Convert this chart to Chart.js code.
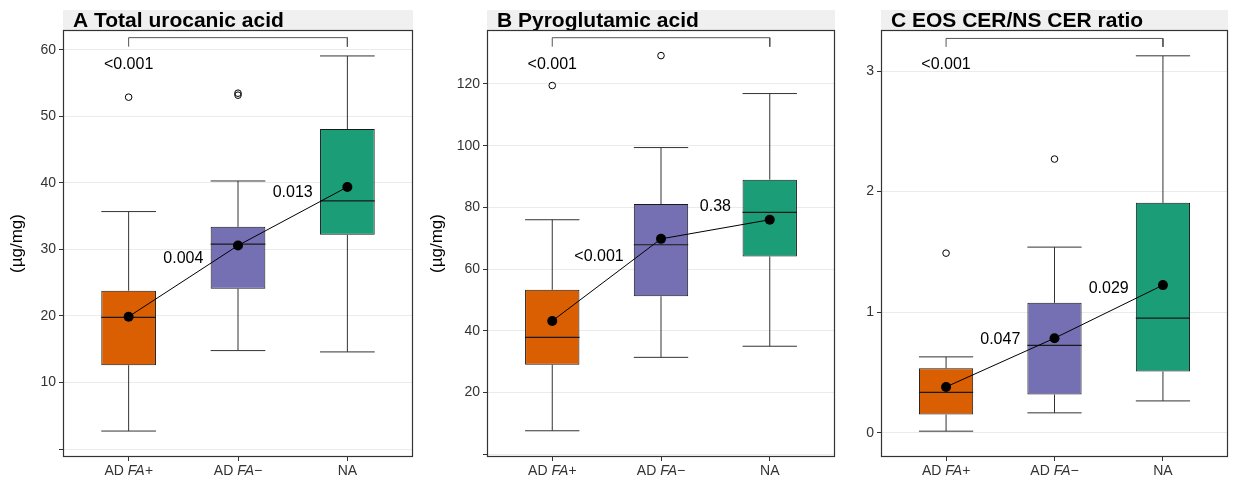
<!DOCTYPE html>
<html>
<head>
<meta charset="utf-8">
<script src="https://cdn.jsdelivr.net/npm/chart.js@4.4.1/dist/chart.umd.min.js"></script>
<style>
html, body { margin: 0; padding: 0; background: #ffffff; }
#wrap { position: relative; width: 1233px; height: 481px; overflow: hidden; background: #ffffff; }
#wrap canvas { position: absolute; top: 0; }
</style>
</head>
<body>
<div id="wrap">
  <canvas id="cA" width="420" height="481" style="left:0px"></canvas>
  <canvas id="cB" width="420" height="481" style="left:420px"></canvas>
  <canvas id="cC" width="393" height="481" style="left:840px"></canvas>
</div>
<script>
// ---------- data ----------
const categories = ['AD FA+', 'AD FA\u2212', 'NA'];

// Panel A: Total urocanic acid (µg/mg)
const aTitle = 'A Total urocanic acid';
const aWhiskerLow  = [2.7, 14.8, 14.6];
const aQ1          = [12.6, 24.1, 32.2];
const aMedian      = [19.8, 30.8, 37.3];
const aQ3          = [23.8, 33.4, 48.1];
const aWhiskerHigh = [35.7, 40.3, 59.1];
const aMean        = [19.9, 30.6, 39.4];
const aOutliers    = [[52.9], [53.2, 53.5], []];
const aTickValues  = [0, 10, 20, 30, 40, 50, 60];
const aTickLabels  = ['', '10', '20', '30', '40', '50', '60'];
const aRange       = [-1.2, 63.0];
const aNoteText    = ['<0.001', '0.004', '0.013'];
const aNoteX       = [1, 1.5, 2.5];
const aNoteY       = [57.8, 28.7, 38.5];
const aBracket     = [61.85, 60.5];

// Panel B: Pyroglutamic acid (µg/mg)
const bTitle = 'B Pyroglutamic acid';
const bWhiskerLow  = [7.6, 31.4, 35.0];
const bQ1          = [29.0, 51.2, 64.1];
const bMedian      = [37.9, 67.9, 78.4];
const bQ3          = [53.3, 81.1, 89.0];
const bWhiskerHigh = [76.0, 99.4, 116.9];
const bMean        = [43.2, 69.8, 76.0];
const bOutliers    = [[119.5], [129.2], []];
const bTickValues  = [0, 20, 40, 60, 80, 100, 120];
const bTickLabels  = ['', '20', '40', '60', '80', '100', '120'];
const bRange       = [-0.9, 137.5];
const bNoteText    = ['<0.001', '<0.001', '0.38'];
const bNoteX       = [1, 1.43, 2.5];
const bNoteY       = [126.4, 64.0, 80.3];
const bBracket     = [135.0, 132.1];

// Panel C: EOS CER/NS CER ratio
const cTitle = 'C EOS CER/NS CER ratio';
const cWhiskerLow  = [0.014, 0.166, 0.265];
const cQ1          = [0.152, 0.318, 0.509];
const cMedian      = [0.335, 0.725, 0.951];
const cQ3          = [0.536, 1.078, 1.907];
const cWhiskerHigh = [0.63, 1.54, 3.126];
const cMean        = [0.381, 0.785, 1.225];
const cOutliers    = [[1.49], [2.27], []];
const cTickValues  = [0, 1, 2, 3];
const cTickLabels  = ['0', '1', '2', '3'];
const cRange       = [-0.2, 3.34];
const cNoteText    = ['<0.001', '0.047', '0.029'];
const cNoteX       = [1, 1.5, 2.5];
const cNoteY       = [3.055, 0.777, 1.197];
const cBracket     = [3.27, 3.20];

const yTitleText = '(\u00b5g/mg)';

// ---------- styles ----------
const FONT = '"Liberation Sans", Arial, Helvetica, sans-serif';
const boxColors = ['#D95F02', '#7570B3', '#1B9E77'];
const BOX_HALF = 0.25;
const INK = '#1a1a1a';

function buildPanel(canvasId, p) {
  const n = categories.length;
  const pos = categories.map((c, i) => i + 1);

  const whiskerPts = [];
  pos.forEach((x, i) => {
    whiskerPts.push({x: x, y: p.lo[i]}, {x: x, y: p.q1[i]}, {x: x, y: null});
    whiskerPts.push({x: x, y: p.q3[i]}, {x: x, y: p.hi[i]}, {x: x, y: null});
    whiskerPts.push({x: x - BOX_HALF, y: p.hi[i]}, {x: x + BOX_HALF, y: p.hi[i]}, {x: x, y: null});
    whiskerPts.push({x: x - BOX_HALF, y: p.lo[i]}, {x: x + BOX_HALF, y: p.lo[i]}, {x: x, y: null});
  });
  const medianPts = [];
  pos.forEach((x, i) => {
    medianPts.push({x: x - BOX_HALF, y: p.med[i]}, {x: x + BOX_HALF, y: p.med[i]}, {x: x, y: null});
  });
  const outlierPts = [];
  pos.forEach((x, i) => p.out[i].forEach(v => outlierPts.push({x: x, y: v})));
  const meanPts = pos.map((x, i) => ({x: x, y: p.mean[i]}));
  const bracketPts = [
    {x: pos[0], y: p.bracket[1]}, {x: pos[0], y: p.bracket[0]},
    {x: pos[n - 1], y: p.bracket[0]}, {x: pos[n - 1], y: p.bracket[1]}
  ];

  const decor = {
    id: 'decor_' + canvasId,
    beforeDraw(chart) {
      const ctx = chart.ctx, a = chart.chartArea;
      ctx.save();
      ctx.fillStyle = '#f0f0f0';
      ctx.fillRect(a.left, a.top - 20, a.right - a.left, 20);
      ctx.fillStyle = '#000000';
      ctx.font = 'bold 21px ' + FONT;
      ctx.textAlign = 'left';
      ctx.textBaseline = 'alphabetic';
      ctx.fillText(p.title, a.left + 10, a.top - 3);
      ctx.restore();
    },
    afterDatasetsDraw(chart) {
      const ctx = chart.ctx, xs = chart.scales.x, ys = chart.scales.y;
      ctx.save();
      ctx.font = '16px ' + FONT;
      ctx.fillStyle = '#000000';
      ctx.textAlign = 'center';
      ctx.textBaseline = 'middle';
      p.noteText.forEach((t, i) => {
        ctx.fillText(t, xs.getPixelForValue(p.noteX[i]), ys.getPixelForValue(p.noteY[i]));
      });
      ctx.restore();
    },
    afterDraw(chart) {
      const ctx = chart.ctx, a = chart.chartArea, xs = chart.scales.x;
      ctx.save();
      ctx.strokeStyle = '#333333';
      ctx.lineWidth = 1.2;
      ctx.strokeRect(a.left + 0.5, a.top + 0.5, a.right - a.left - 1, a.bottom - a.top - 1);
      // category labels (italic genotype part)
      ctx.fillStyle = '#333333';
      ctx.textBaseline = 'middle';
      ctx.textAlign = 'left';
      const normalFont = '14px ' + FONT, italicFont = 'italic 14px ' + FONT;
      categories.forEach((lab, i) => {
        const parts = lab.split(' ');
        const first = parts.length > 1 ? parts[0] + ' ' : parts[0];
        const second = parts.length > 1 ? parts.slice(1).join(' ') : '';
        ctx.font = normalFont;
        const w1 = ctx.measureText(first).width;
        ctx.font = italicFont;
        const w2 = second ? ctx.measureText(second).width : 0;
        const cx = xs.getPixelForValue(pos[i]);
        let x0 = cx - (w1 + w2) / 2;
        ctx.font = normalFont;
        ctx.fillText(first, x0, a.bottom + 14);
        if (second) {
          ctx.font = italicFont;
          ctx.fillText(second, x0 + w1, a.bottom + 14);
        }
      });
      ctx.restore();
    }
  };

  return new Chart(document.getElementById(canvasId), {
    type: 'bar',
    data: {
      datasets: [
        {
          type: 'line', label: 'whiskers', data: whiskerPts, order: 6,
          borderColor: '#333333', borderWidth: 1, pointRadius: 0, spanGaps: false, tension: 0, fill: false
        },
        {
          type: 'bar', label: 'box', order: 5, grouped: false,
          data: pos.map((x, i) => ({x: x, y: [p.q1[i], p.q3[i]]})),
          backgroundColor: boxColors, borderColor: INK, borderWidth: 1, borderSkipped: false,
          categoryPercentage: 1.0, barPercentage: 0.5
        },
        {
          type: 'line', label: 'median', data: medianPts, order: 4,
          borderColor: INK, borderWidth: 1.2, pointRadius: 0, spanGaps: false, tension: 0, fill: false
        },
        {
          type: 'line', label: 'bracket', data: bracketPts, order: 3,
          borderColor: '#555555', borderWidth: 1, pointRadius: 0, tension: 0, fill: false
        },
        {
          type: 'line', label: 'outliers', data: outlierPts, order: 2, showLine: false,
          pointRadius: 3.3, pointBorderWidth: 1, pointBorderColor: '#000000',
          pointBackgroundColor: 'rgba(0,0,0,0)', borderColor: '#000000'
        },
        {
          type: 'line', label: 'mean', data: meanPts, order: 1,
          borderColor: '#000000', borderWidth: 1, tension: 0, fill: false,
          pointRadius: 5, pointBorderWidth: 0, pointBackgroundColor: '#000000'
        }
      ]
    },
    options: {
      responsive: false,
      animation: false,
      events: [],
      layout: { padding: { top: 30, right: p.padRight, bottom: 0, left: 0 } },
      plugins: { legend: { display: false }, tooltip: { enabled: false }, title: { display: false } },
      scales: {
        x: {
          type: 'linear', min: 0.4, max: 3.6, offset: false,
          afterBuildTicks: s => { s.ticks = pos.map(v => ({value: v})); },
          afterFit: s => { s.height = 24; },
          grid: { offset: false, drawOnChartArea: false, drawTicks: true, tickLength: 4, tickColor: '#333333' },
          border: { display: false },
          ticks: { display: false }
        },
        y: {
          type: 'linear', min: p.range[0], max: p.range[1],
          afterBuildTicks: s => { s.ticks = p.tickValues.map(v => ({value: v})); },
          afterFit: s => { s.width = p.axisWidth; },
          grid: { color: '#ebebeb', lineWidth: 1, tickLength: 4, tickColor: '#333333', drawTicks: true },
          border: { display: false },
          ticks: {
            padding: 3, color: '#333333', font: { family: FONT, size: 14 },
            callback: (v) => { const k = p.tickValues.indexOf(v); return k >= 0 ? p.tickLabels[k] : ''; }
          },
          title: {
            display: !!p.yTitle, text: p.yTitle || '', color: '#000000',
            font: { family: FONT, size: 17 }, padding: { top: 7, bottom: 0 }
          }
        }
      }
    },
    plugins: [decor]
  });
}

buildPanel('cA', {
  title: aTitle, lo: aWhiskerLow, q1: aQ1, med: aMedian, q3: aQ3, hi: aWhiskerHigh, mean: aMean,
  out: aOutliers, tickValues: aTickValues, tickLabels: aTickLabels, range: aRange,
  noteText: aNoteText, noteX: aNoteX, noteY: aNoteY, bracket: aBracket,
  yTitle: yTitleText, axisWidth: 63, padRight: 7
});
buildPanel('cB', {
  title: bTitle, lo: bWhiskerLow, q1: bQ1, med: bMedian, q3: bQ3, hi: bWhiskerHigh, mean: bMean,
  out: bOutliers, tickValues: bTickValues, tickLabels: bTickLabels, range: bRange,
  noteText: bNoteText, noteX: bNoteX, noteY: bNoteY, bracket: bBracket,
  yTitle: yTitleText, axisWidth: 67, padRight: 3
});
buildPanel('cC', {
  title: cTitle, lo: cWhiskerLow, q1: cQ1, med: cMedian, q3: cQ3, hi: cWhiskerHigh, mean: cMean,
  out: cOutliers, tickValues: cTickValues, tickLabels: cTickLabels, range: cRange,
  noteText: cNoteText, noteX: cNoteX, noteY: cNoteY, bracket: cBracket,
  yTitle: null, axisWidth: 41, padRight: 3
});
</script>
</body>
</html>
